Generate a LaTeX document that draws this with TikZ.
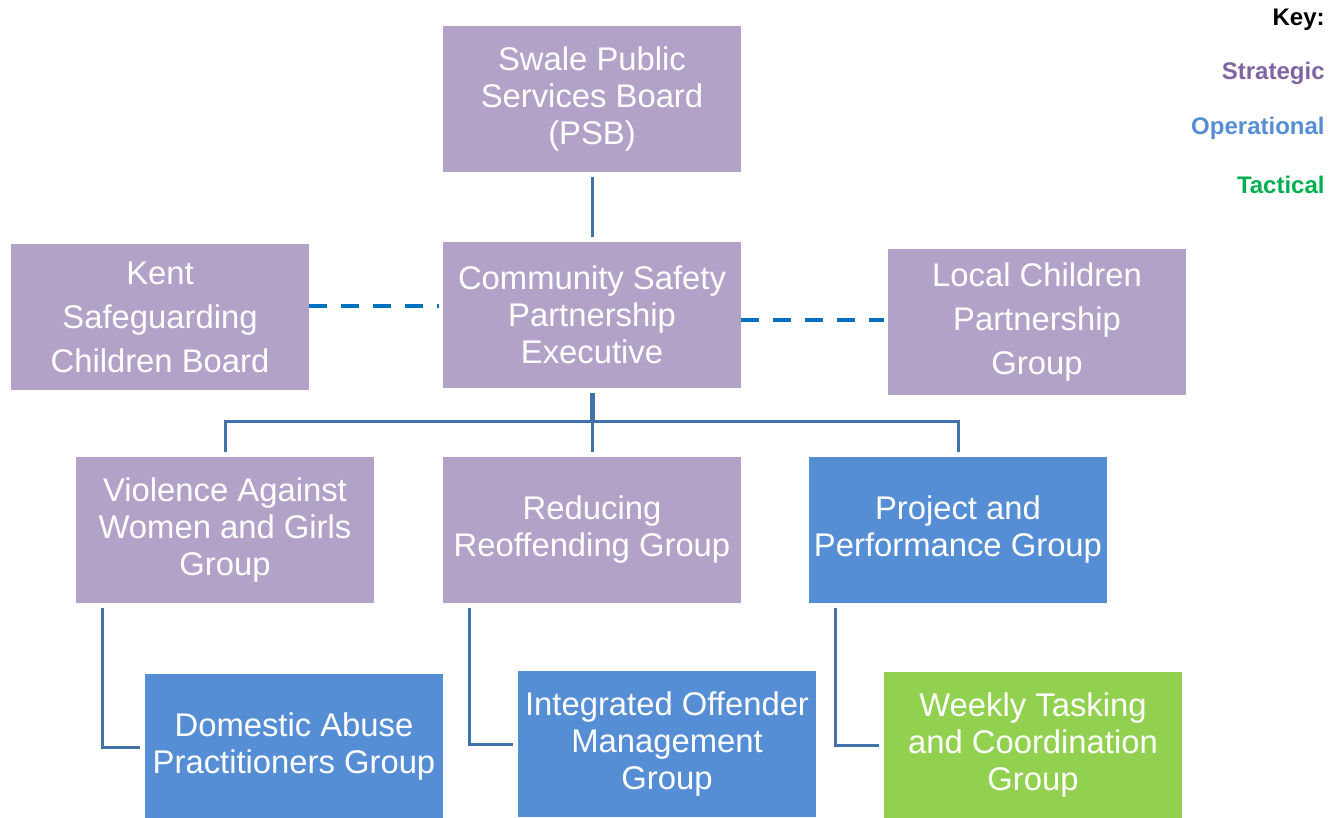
\documentclass[tikz,border=0pt]{standalone}
\usepackage{fontspec}
\setmainfont{Liberation Sans}
\usepackage{xcolor}
\usetikzlibrary{arrows, positioning}

\definecolor{stratfill}{HTML}{B3A2C7}
\definecolor{operfill}{HTML}{558ED5}
\definecolor{tactfill}{HTML}{92D050}
\definecolor{linkblue}{HTML}{4372AA}
\definecolor{dashblue}{HTML}{0070C0}
\definecolor{keypurple}{HTML}{8064A2}
\definecolor{keygreen}{HTML}{00B050}

\begin{document}
\begin{tikzpicture}[node distance=2cm,on grid,auto]
    \tikzstyle{box}=[shape=rectangle,minimum width=149pt,minimum height=73pt,inner sep=0pt,align=center,text=white,font=\fontsize{16.4}{18.5}\selectfont]
    \tikzstyle{strategic}=[box,fill=stratfill]
    \tikzstyle{operational}=[box,fill=operfill]
    \tikzstyle{tactical}=[box,fill=tactfill]
    \tikzstyle{wide}=[font=\fontsize{16.4}{22}\selectfont]
    \tikzstyle{link}=[draw=linkblue,line width=1.5pt]
    \tikzstyle{trunk}=[draw=linkblue,line width=2.5pt]
    \tikzstyle{partner}=[draw=dashblue,line width=2pt,dash pattern=on 9pt off 7pt]
    \tikzstyle{keytext}=[anchor=east,inner sep=0pt,font=\bfseries\fontsize{12}{14}\selectfont]

    \useasboundingbox (0,0) rectangle (665pt,-409pt);

    \node[strategic] (psb) at (296pt,-49.5pt) {Swale Public\\Services Board\\(PSB)};
    \node[strategic, below=108pt of psb] (csp) {Community Safety\\Partnership\\Executive};
    \node[strategic, wide, below left=1pt and 216pt of csp] (kent) {Kent\\Safeguarding\\Children Board};
    \node[strategic, wide, below right=3.5pt and 222.5pt of csp] (lcpg) {Local Children\\Partnership\\Group};
    \coordinate[below=53.5pt of csp] (bus);
    \node[strategic, below left=107.5pt and 183.5pt of csp] (vawg) {Violence Against\\Women and Girls\\Group};
    \node[strategic, below=107.5pt of csp] (rrg) {Reducing\\Reoffending Group};
    \node[operational, below right=107.5pt and 183pt of csp] (ppg) {Project and\\Performance Group};
    \node[operational, below right=108.5pt and 34.5pt of vawg] (dapg) {Domestic Abuse\\Practitioners Group};
    \node[operational, below right=107pt and 37.5pt of rrg] (iom) {Integrated Offender\\Management\\Group};
    \node[tactical, below right=107.5pt and 37.5pt of ppg] (wtcg) {Weekly Tasking\\and Coordination\\Group};

    % key
    \node[keytext, text=black] (key) at (662.5pt,-10pt) {Key:};
    \node[keytext, text=keypurple] (kstrat) at ([yshift=-26.5pt]key.east) {Strategic};
    \node[keytext, text=operfill] (koper) at ([yshift=-27.5pt]kstrat.east) {Operational};
    \node[keytext, text=keygreen] (ktact) at ([yshift=-28.5pt]koper.east) {Tactical};

    \path[link]
    (psb) edge[shorten <=2.5pt, shorten >=2.5pt] (csp)
    ;

    \draw[trunk] ([yshift=-2.5pt]csp.south) -- (bus);
    \draw[link] ([yshift=2.5pt]vawg.north) |- (bus) -| ([yshift=2.5pt]ppg.north);
    \draw[link] (bus) -- ([yshift=2.5pt]rrg.north);

    \draw[link] ([xshift=13.5pt,yshift=-2.5pt]vawg.south west) |- ([xshift=-2.5pt]dapg.west);
    \draw[link] ([xshift=13.5pt,yshift=-2.5pt]rrg.south west) |- ([xshift=-2.5pt]iom.west);
    \draw[link] ([xshift=13.5pt,yshift=-2.5pt]ppg.south west) |- ([xshift=-2.5pt]wtcg.west);

    \coordinate (kentlink) at ([yshift=5.5pt]kent.east);
    \coordinate (lclink) at ([yshift=1pt]lcpg.west);
    \draw[partner] (kentlink) -- ([xshift=-2pt]kentlink -| csp.west);
    \draw[partner] (lclink -| csp.east) -- ([xshift=-2pt]lclink);

\end{tikzpicture}
\end{document}
